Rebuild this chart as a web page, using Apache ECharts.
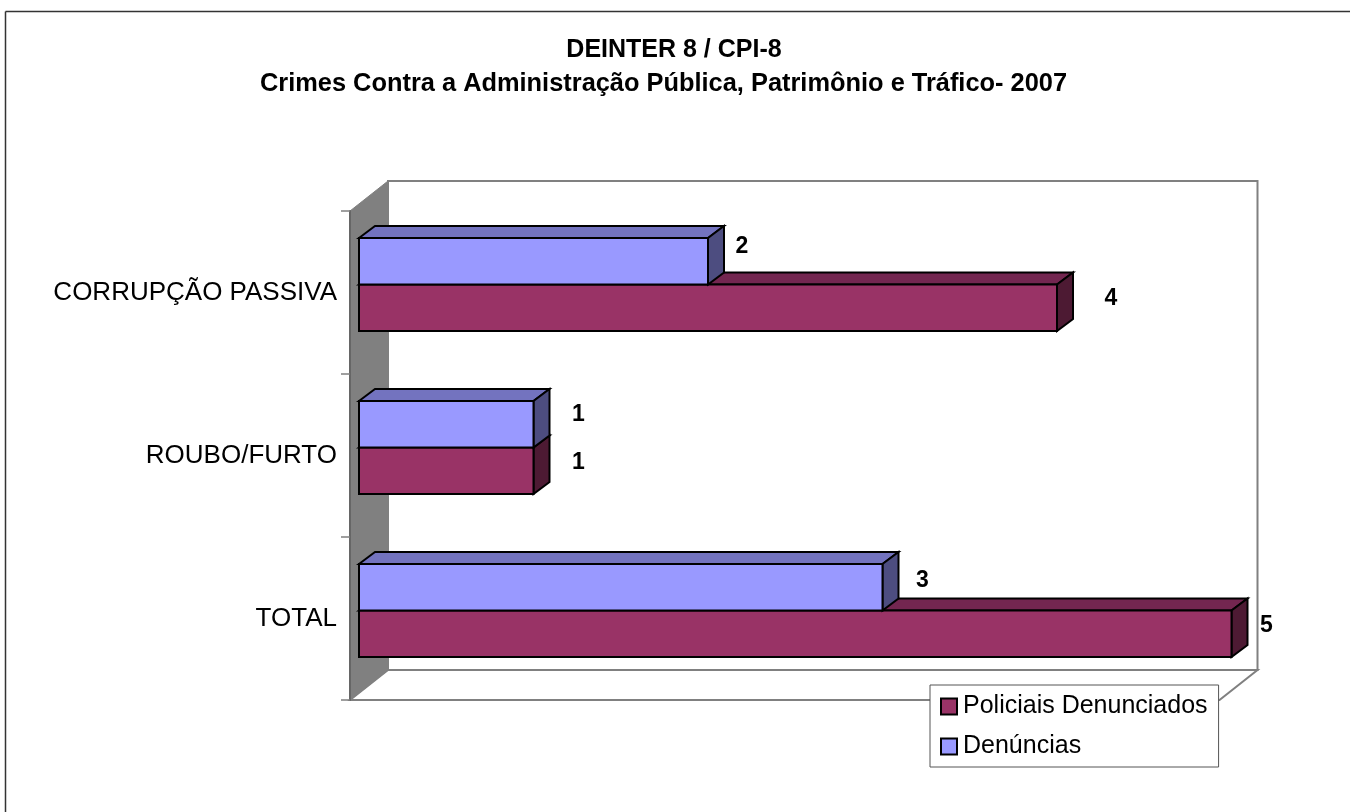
<!DOCTYPE html>
<html>
<head>
<meta charset="utf-8">
<title>DEINTER 8 / CPI-8</title>
<style>
  html, body { margin: 0; padding: 0; background: #fff; }
  #main { width: 1350px; height: 812px; }
</style>
<script src="https://cdn.jsdelivr.net/npm/echarts@6/dist/echarts.min.js"></script>
</head>
<body>
<div id="main"></div>
<script>
var categories = ['CORRUPÇÃO PASSIVA', 'ROUBO/FURTO', 'TOTAL'];
var policiais = [4, 1, 5];
var denuncias = [2, 1, 3];

var FONT = '"Liberation Sans", Arial, sans-serif';

// profundidade do "3D" (estilo Excel)
var WALL_DX = 38, WALL_DY = -30;
var BAR_DX = 16, BAR_DY = -12;
var FRONT_DX = 9, FRONT_DY = -8;
var BAR_H = 46.5;

// ajuste dos rotulos em relacao a barra, um por categoria
var nudgePoliciais = [[54, -9], [45, -8], [35, -8]];
var nudgeDenuncias = [[34, -15], [45, -10], [40, -7]];

function poly(points, fill, stroke, width) {
  return {
    type: 'polygon',
    shape: { points: points },
    style: { fill: fill, stroke: stroke, lineWidth: width, lineJoin: 'miter' }
  };
}

// paredes e chao
function renderWalls(params) {
  var c = params.coordSys;
  var left = c.x, top = c.y, right = c.x + c.width, bottom = c.y + c.height;
  var backRight = right + WALL_DX - 3;
  return {
    type: 'group',
    children: [
      poly([[left + WALL_DX, top + WALL_DY], [backRight, top + WALL_DY], [backRight, bottom + WALL_DY], [left + WALL_DX, bottom + WALL_DY]], '#fff', '#808080', 2),
      poly([[left, bottom], [left + WALL_DX, bottom + WALL_DY], [backRight, bottom + WALL_DY], [right - 3, bottom]], '#fff', '#808080', 2),
      poly([[left, top], [left + WALL_DX, top + WALL_DY], [left + WALL_DX, bottom + WALL_DY], [left, bottom]], '#808080', '#808080', 1)
    ]
  };
}

function barRenderer(front, topc, side, offset, nudges) {
  return function (params, api) {
    var i = api.value(1);
    var end = api.coord([api.value(0), i]);
    var start = api.coord([0, i]);
    var x0 = start[0] + FRONT_DX;
    var x1 = end[0] + FRONT_DX;
    var yc = end[1] + FRONT_DY + offset;
    var y0 = yc - BAR_H / 2;
    var y1 = yc + BAR_H / 2;
    var n = nudges[i];
    return {
      type: 'group',
      children: [
        poly([[x0, y0], [x0 + BAR_DX, y0 + BAR_DY], [x1 + BAR_DX, y0 + BAR_DY], [x1, y0]], topc, '#000', 2),
        poly([[x1, y0], [x1 + BAR_DX, y0 + BAR_DY], [x1 + BAR_DX, y1 + BAR_DY], [x1, y1]], side, '#000', 2),
        poly([[x0, y0], [x1, y0], [x1, y1], [x0, y1]], front, '#000', 2),
        {
          type: 'text',
          style: {
            x: x1 + n[0], y: yc + n[1],
            text: String(api.value(0)),
            font: 'bold 23px ' + FONT,
            fill: '#000', align: 'center', verticalAlign: 'middle'
          }
        }
      ]
    };
  };
}

function toPairs(values) {
  return values.map(function (v, i) { return [v, i]; });
}

var chart = echarts.init(document.getElementById('main'), null, { renderer: 'canvas' });

chart.setOption({
  animation: false,
  backgroundColor: '#fff',
  title: [
    {
      text: 'DEINTER 8 / CPI-8',
      left: 674,
      top: 33,
      padding: 0,
      textAlign: 'center',
      textStyle: { fontFamily: FONT, fontWeight: 'bold', fontSize: 25, lineHeight: 34, color: '#000' }
    },
    {
      text: 'Crimes Contra a Administração Pública, Patrimônio e Tráfico- 2007',
      left: 663.5,
      top: 67,
      padding: 0,
      textAlign: 'center',
      textStyle: { fontFamily: FONT, fontWeight: 'bold', fontSize: 25.4, lineHeight: 34, color: '#000' }
    }
  ],
  grid: { left: 350, top: 211, width: 872.5, height: 489 },
  xAxis: { type: 'value', min: 0, max: 5, show: false },
  yAxis: {
    type: 'category',
    inverse: true,
    data: categories,
    z: 3,
    axisLine: { lineStyle: { color: '#666', width: 2 } },
    axisTick: { show: true, alignWithLabel: false, length: 9, lineStyle: { color: '#808080', width: 1.5 } },
    axisLabel: { color: '#000', fontFamily: FONT, fontSize: 26, margin: 13 }
  },
  legend: {
    data: ['Policiais Denunciados', 'Denúncias'],
    orient: 'vertical',
    left: 930,
    top: 685,
    padding: [9, 11, 8, 10],
    icon: 'rect',
    itemWidth: 16,
    itemHeight: 16,
    itemGap: 15,
    backgroundColor: '#fff',
    borderColor: '#555',
    borderWidth: 1,
    itemStyle: { borderColor: '#000', borderWidth: 2 },
    textStyle: { color: '#000', fontFamily: FONT, fontSize: 25, padding: [0, 0, 0, 1] }
  },
  series: [
    {
      type: 'custom',
      name: 'walls',
      coordinateSystem: 'cartesian2d',
      clip: false,
      silent: true,
      z: 1,
      renderItem: renderWalls,
      data: [[0, 0]]
    },
    {
      type: 'custom',
      name: 'Policiais Denunciados',
      coordinateSystem: 'cartesian2d',
      clip: false,
      z: 2,
      itemStyle: { color: '#993366' },
      renderItem: barRenderer('#993366', '#732650', '#4D1A33', BAR_H / 2, nudgePoliciais),
      data: toPairs(policiais)
    },
    {
      type: 'custom',
      name: 'Denúncias',
      coordinateSystem: 'cartesian2d',
      clip: false,
      z: 3,
      itemStyle: { color: '#9999FF' },
      renderItem: barRenderer('#9999FF', '#7373BF', '#4D4D80', -BAR_H / 2, nudgeDenuncias),
      data: toPairs(denuncias)
    }
  ],
  graphic: [
    { type: 'line', shape: { x1: 5.5, y1: 11.5, x2: 1350, y2: 11.5 }, style: { stroke: '#333', lineWidth: 1.5 } },
    { type: 'line', shape: { x1: 5.5, y1: 11.5, x2: 5.5, y2: 812 }, style: { stroke: '#333', lineWidth: 1.5 } }
  ]
});
</script>
</body>
</html>
